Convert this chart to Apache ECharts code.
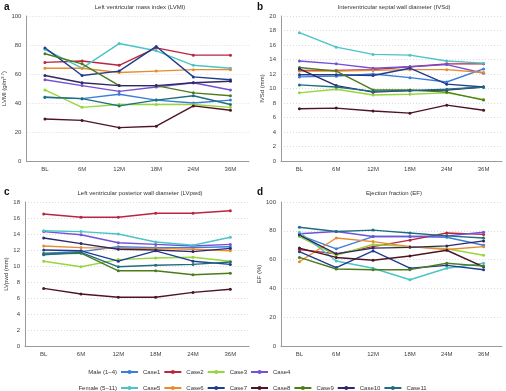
<!DOCTYPE html>
<html>
<head>
<meta charset="utf-8">
<script src="https://cdn.jsdelivr.net/npm/echarts@6/dist/echarts.min.js"></script>
<style>
    html, body { margin: 0; padding: 0; background: #fff; }
    #chart { width: 506px; height: 391px; }
</style>
</head>
<body>
<div id="chart"></div>
<script>
// categories and case names
var months = ['BL', '6M', '12M', '18M', '24M', '36M'];
var cases = ['Case1', 'Case2', 'Case3', 'Case4', 'Case5', 'Case6', 'Case7', 'Case8', 'Case9', 'Case10', 'Case11'];
var maleCases = ['Case1', 'Case2', 'Case3', 'Case4'];
var femaleCases = ['Case5', 'Case6', 'Case7', 'Case8', 'Case9', 'Case10', 'Case11'];
var caseColors = ['#3b7dd8', '#b8263f', '#97d63c', '#7451d6', '#4bc4c8', '#ea8a2e',
    '#1e3d8c', '#4e1424', '#4c7c1c', '#2f2866', '#1e6e80'];

// a: LVMI, one row per case
var lvmi = [
    [44, 43, 46, 42, 40, 42],
    [68, 69, 66, 78, 73, 73],
    [49, 37, 39, 39, 39, 37],
    [56, 52, 48, 51, 54, 49],
    [77, 64, 81, 76, 66, 64],
    [64, 64, 61, 62, 63, 63],
    [78, 59, 62, 79, 58, 56],
    [29, 28, 23, 24, 38, 35],
    [74, 67, 52, 52, 47, 45],
    [59, 54, 52, 52, 54, 55],
    [44, 43, 38, 42, 45, 39]
];
// b: IVSd
var ivsd = [
    [11.6, 11.7, 12.0, 11.5, 10.9, 12.7],
    [12.5, 12.5, 12.6, 13.0, 13.4, 13.4],
    [9.4, 9.9, 9.1, 9.2, 9.4, 8.5],
    [13.8, 13.4, 12.8, 13.0, 13.3, 12.1],
    [17.7, 15.7, 14.7, 14.6, 13.8, 13.5],
    [12.4, 12.4, 12.5, 12.6, 12.6, 12.2],
    [11.9, 11.9, 11.8, 12.8, 10.6, 10.2],
    [7.2, 7.3, 6.9, 6.6, 7.7, 7.0],
    [12.9, 12.4, 9.8, 9.8, 9.5, 8.4],
    [12.7, 10.4, 9.5, 9.7, 9.8, 10.2],
    [10.5, 10.2, 9.6, 9.7, 9.9, 10.2]
];
// c: LVpwd
var lvpwd = [
    [11.6, 11.8, 12.4, 12.3, 12.3, 12.4],
    [16.5, 16.1, 16.1, 16.6, 16.6, 16.9],
    [10.6, 9.9, 10.8, 11.0, 11.1, 10.6],
    [14.3, 13.9, 12.9, 12.7, 12.5, 12.7],
    [14.4, 14.3, 14.0, 13.0, 12.6, 13.6],
    [12.5, 12.3, 12.2, 12.2, 12.1, 11.9],
    [12.0, 11.9, 10.6, 11.9, 10.6, 10.2],
    [7.2, 6.5, 6.1, 6.1, 6.7, 7.1],
    [11.5, 11.6, 9.4, 9.4, 8.9, 9.1],
    [13.5, 12.8, 12.1, 12.0, 11.8, 12.2],
    [11.4, 11.7, 9.9, 10.1, 10.2, 10.5]
];
// d: EF
var ef = [
    [77, 67.5, 76, 76, 75.5, 70],
    [67, 64, 69, 73.5, 78.5, 77.5],
    [76, 63, 70.5, 69, 67.5, 63],
    [78, 79.5, 76, 76, 76.5, 79],
    [79, 59, 54, 46, 54, 57.5],
    [58.5, 75, 72.5, 69, 67, 69],
    [65.5, 54.5, 66, 54, 56, 53],
    [68, 61.5, 59.5, 62.5, 66.5, 55],
    [61.5, 53.5, 53, 53, 57.5, 55.5],
    [77, 64, 68, 68.5, 69.5, 73],
    [82.5, 79.5, 80.5, 78.5, 76.5, 75]
];

var panelTitles = ['Left ventricular mass index (LVMI)', 'Interventricular septal wall diameter (IVSd)',
    'Left ventricular posterior wall diameter (LVpwd)', 'Ejection fraction (EF)'];
var panelLetters = ['a', 'b', 'c', 'd'];
var yNames = ['{n|LVMI (g/m}{s|2.7}{n|)}', 'IVSd (mm)', 'LVpwd (mm)', 'EF (%)'];
var yMax = [100, 20, 18, 100];
var yStep = [20, 2, 2, 20];
var panelData = [lvmi, ivsd, lvpwd, ef];

var font = 'Liberation Sans, Arial, sans-serif';
var grids = [
    { left: 25, right: 257, top: 16, bottom: 230 },
    { left: 281, right: 4, top: 16, bottom: 230 },
    { left: 25, right: 257, top: 202, bottom: 45 },
    { left: 281, right: 4, top: 202, bottom: 45 }
];
var titlePos = [
    { x: 138, y: 2 }, { x: 392, y: 2 }, { x: 138, y: 188 }, { x: 392, y: 188 }
];
var letterPos = [
    { x: 2, y: 0 }, { x: 255, y: 0 }, { x: 2, y: 185 }, { x: 255, y: 185 }
];

var xAxes = [], yAxes = [], series = [], titles = [];
for (let p = 0; p < 4; p++) {
    xAxes.push({
        type: 'category',
        gridIndex: p,
        data: months,
        boundaryGap: true,
        axisLine: { lineStyle: { color: '#9a9a9a', width: 1 } },
        axisTick: { show: false },
        axisLabel: { fontSize: 6, color: '#444', fontFamily: font, margin: 5 }
    });
    yAxes.push({
        type: 'value',
        gridIndex: p,
        min: 0,
        max: yMax[p],
        interval: yStep[p],
        name: yNames[p],
        nameLocation: 'middle',
        nameGap: 15,
        nameTextStyle: {
            fontSize: 6, color: '#333', fontFamily: font,
            rich: {
                n: { fontSize: 6, color: '#333', fontFamily: font },
                s: { fontSize: 4, color: '#333', fontFamily: font, verticalAlign: 'top', padding: [0, 0, 3, 0] }
            }
        },
        axisLine: { show: true, lineStyle: { color: '#9a9a9a', width: 1 } },
        axisTick: { show: false },
        axisLabel: { fontSize: 6, color: '#444', fontFamily: font, margin: 5 },
        splitLine: { lineStyle: { color: '#dcdcdc', type: [1, 2], width: 1 } }
    });
    titles.push({
        text: panelTitles[p],
        left: titlePos[p].x,
        top: titlePos[p].y,
        padding: 2,
        textAlign: 'center',
        textStyle: { fontSize: 6, fontWeight: 'normal', color: '#333', fontFamily: font }
    });
    titles.push({
        text: panelLetters[p],
        left: letterPos[p].x,
        top: letterPos[p].y,
        padding: 2,
        textStyle: { fontSize: 10, fontWeight: 'bold', color: '#111', fontFamily: font }
    });
    for (let c = 0; c < cases.length; c++) {
        series.push({
            name: cases[c],
            type: 'line',
            xAxisIndex: p,
            yAxisIndex: p,
            data: panelData[p][c],
            symbol: 'circle',
            symbolSize: 3,
            color: caseColors[c],
            lineStyle: { width: 1.4 },
            animation: false
        });
    }
}

var legendBase = {
    itemWidth: 17,
    itemHeight: 5,
    itemGap: 3,
    padding: 0,
    textStyle: { fontSize: 6, color: '#333', fontFamily: font }
};

var option = {
    animation: false,
    title: titles,
    grid: grids,
    xAxis: xAxes,
    yAxis: yAxes,
    legend: [
        Object.assign({}, legendBase, { data: maleCases, left: 120, top: 369 }),
        Object.assign({}, legendBase, { data: femaleCases, left: 120, top: 385 })
    ],
    graphic: [
        { type: 'text', right: 506 - 117, top: 369, style: { text: 'Male (1–4)', font: '6px ' + font, fill: '#333' } },
        { type: 'text', right: 506 - 117, top: 385, style: { text: 'Female (5–11)', font: '6px ' + font, fill: '#333' } }
    ],
    series: series
};

var chart = echarts.init(document.getElementById('chart'));
chart.setOption(option);
</script>
</body>
</html>
